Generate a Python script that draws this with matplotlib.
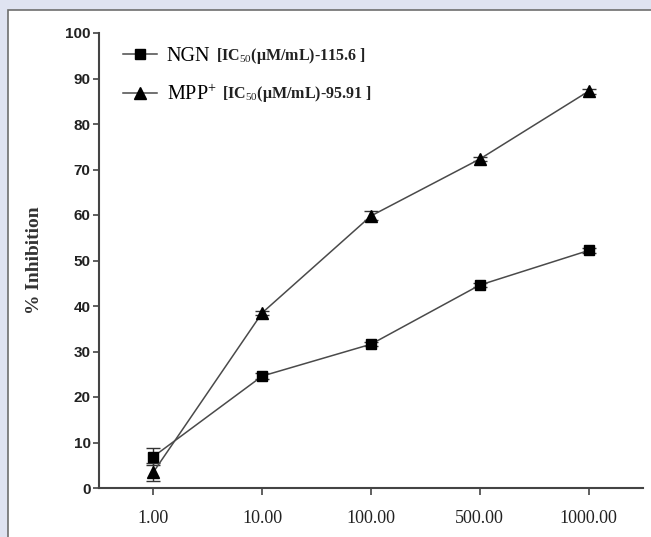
import matplotlib.pyplot as plt
from matplotlib.patches import Rectangle
from matplotlib.lines import Line2D

# Data
doses = ['1.00', '10.00', '100.00', '500.00', '1000.00']
ngn = [6.9, 24.6, 31.6, 44.6, 52.2]
ngn_err = [1.8, 0.6, 0.5, 0.5, 0.5]
mpp = [3.5, 38.5, 59.8, 72.3, 87.2]
mpp_err = [2.0, 0.5, 1.0, 0.5, 0.5]
ic50_notes = ['[IC$_{50}$(\u03bcM/mL)-115.6 ]', '[IC$_{50}$(\u03bcM/mL)-95.91 ]']

plt.rcParams['mathtext.fontset'] = 'custom'
plt.rcParams['mathtext.rm'] = 'Liberation Serif'
plt.rcParams['mathtext.bf'] = 'Liberation Serif:bold'

fig = plt.figure(figsize=(6.51, 5.37), dpi=100)
fig.patch.set_facecolor('#dfe3f1')

# white panel with grey border
panel = Rectangle((8/651, -0.05), 1.05, 1 - 10/537 + 0.05, transform=fig.transFigure,
                  facecolor='white', edgecolor='#6e6e6e', linewidth=1.2, zorder=-5)
fig.patches.append(panel)

ax = fig.add_axes([99/651, 1 - 488/537, (643 - 99)/651, (488 - 33)/537])
ax.set_facecolor('none')

x = list(range(len(doses)))
ax.errorbar(x, ngn, yerr=ngn_err, color='#4a4a4a', lw=1.1, marker='s', ms=7,
            mfc='black', mec='black', capsize=5, elinewidth=1.0, ecolor='#333333')
ax.errorbar(x, mpp, yerr=mpp_err, color='#4a4a4a', lw=1.1, marker='^', ms=8,
            mfc='black', mec='black', capsize=5, elinewidth=1.0, ecolor='#333333')

ax.set_xlim(-0.5, 4.5)
ax.set_ylim(0, 100)
ax.set_xticks(x)
ax.set_xticklabels(doses, family='Liberation Serif', fontsize=13, color='#222222')
ax.set_yticks(range(0, 101, 10))
ax.set_yticklabels([str(v) for v in range(0, 101, 10)], family='Liberation Sans',
                   fontweight='bold', fontsize=11, color='#222222')
ax.tick_params(axis='x', direction='out', length=5, width=1.2, pad=11, colors='#444444',
               labelcolor='#222222')
ax.tick_params(axis='y', direction='out', length=4, width=1.2, pad=2, colors='#444444',
               labelcolor='#222222')
for s in ['top', 'right']:
    ax.spines[s].set_visible(False)
for s in ['left', 'bottom']:
    ax.spines[s].set_linewidth(1.5)
    ax.spines[s].set_color('#444444')

ax.set_ylabel('% Inhibition', family='Liberation Serif', fontweight='bold', fontsize=14,
              color='#333333', labelpad=16)

# legend
h1 = Line2D([0], [0], color='#4a4a4a', lw=1.1, marker='s', ms=7, mfc='black', mec='black')
h2 = Line2D([0], [0], color='#4a4a4a', lw=1.1, marker='^', ms=8, mfc='black', mec='black')
leg = ax.legend([h1, h2], ['NGN', 'MPP$^{+}$'], loc='upper left', bbox_to_anchor=(0.01, 1.01),
                frameon=False, handlelength=1.7, handletextpad=0.5, labelspacing=0.9,
                prop={'family': 'Liberation Serif', 'size': 14.5})
for t, note in zip(leg.get_texts(), ic50_notes):
    ax.annotate(note, xy=(1, 0.5), xycoords=t, xytext=(4, 0), textcoords='offset points',
                family='Liberation Serif', fontweight='bold', fontsize=11.5, va='center',
                ha='left', color='#222222', zorder=10)

fig.savefig('out.png', dpi=100, facecolor=fig.get_facecolor())
